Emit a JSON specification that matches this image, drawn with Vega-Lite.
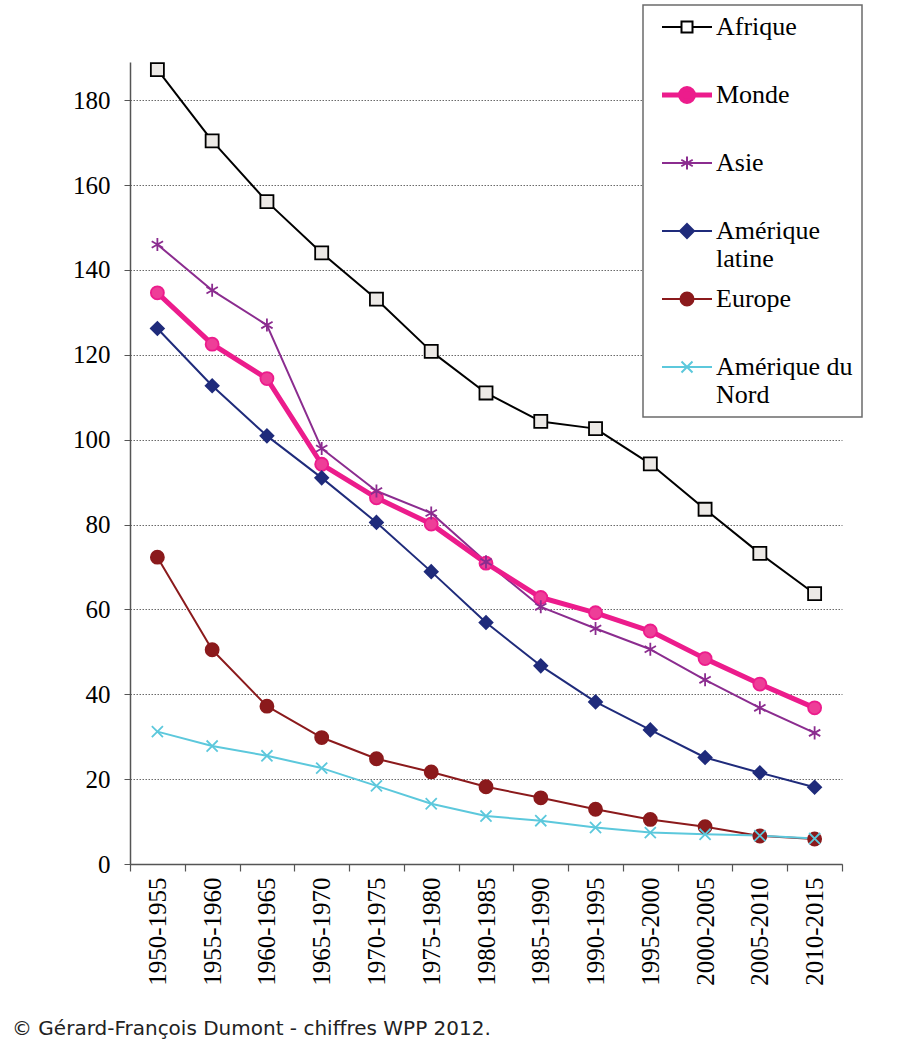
{
  "$schema": "https://vega.github.io/schema/vega-lite/v6.json",
  "width": 712,
  "height": 802,
  "autosize": {"type": "none"},
  "padding": {"left": 130, "top": 62, "right": 66, "bottom": 188},
  "background": "white",
  "config": {"view": {"stroke": null}},
  "title": {
    "text": "© Gérard-François Dumont - chiffres WPP 2012.",
    "orient": "bottom",
    "anchor": "start",
    "frame": "group",
    "dx": -118,
    "offset": 34,
    "font": "DejaVu Sans",
    "fontSize": 20,
    "fontWeight": "normal",
    "color": "#222222"
  },
  "data": {
    "values": [
      {"region": "Afrique", "period": "1950-1955", "value": 187.2},
      {"region": "Afrique", "period": "1955-1960", "value": 170.4},
      {"region": "Afrique", "period": "1960-1965", "value": 156.1},
      {"region": "Afrique", "period": "1965-1970", "value": 144.0},
      {"region": "Afrique", "period": "1970-1975", "value": 133.1},
      {"region": "Afrique", "period": "1975-1980", "value": 120.8},
      {"region": "Afrique", "period": "1980-1985", "value": 111.0},
      {"region": "Afrique", "period": "1985-1990", "value": 104.3},
      {"region": "Afrique", "period": "1990-1995", "value": 102.6},
      {"region": "Afrique", "period": "1995-2000", "value": 94.3},
      {"region": "Afrique", "period": "2000-2005", "value": 83.6},
      {"region": "Afrique", "period": "2005-2010", "value": 73.2},
      {"region": "Afrique", "period": "2010-2015", "value": 63.7},
      {"region": "Monde", "period": "1950-1955", "value": 134.6},
      {"region": "Monde", "period": "1955-1960", "value": 122.5},
      {"region": "Monde", "period": "1960-1965", "value": 114.4},
      {"region": "Monde", "period": "1965-1970", "value": 94.2},
      {"region": "Monde", "period": "1970-1975", "value": 86.3},
      {"region": "Monde", "period": "1975-1980", "value": 80.1},
      {"region": "Monde", "period": "1980-1985", "value": 70.9},
      {"region": "Monde", "period": "1985-1990", "value": 62.8},
      {"region": "Monde", "period": "1990-1995", "value": 59.2},
      {"region": "Monde", "period": "1995-2000", "value": 54.9},
      {"region": "Monde", "period": "2000-2005", "value": 48.4},
      {"region": "Monde", "period": "2005-2010", "value": 42.4},
      {"region": "Monde", "period": "2010-2015", "value": 36.8},
      {"region": "Asie", "period": "1950-1955", "value": 146.0},
      {"region": "Asie", "period": "1955-1960", "value": 135.2},
      {"region": "Asie", "period": "1960-1965", "value": 127.0},
      {"region": "Asie", "period": "1965-1970", "value": 97.9},
      {"region": "Asie", "period": "1970-1975", "value": 87.9},
      {"region": "Asie", "period": "1975-1980", "value": 82.7},
      {"region": "Asie", "period": "1980-1985", "value": 71.2},
      {"region": "Asie", "period": "1985-1990", "value": 60.6},
      {"region": "Asie", "period": "1990-1995", "value": 55.5},
      {"region": "Asie", "period": "1995-2000", "value": 50.6},
      {"region": "Asie", "period": "2000-2005", "value": 43.4},
      {"region": "Asie", "period": "2005-2010", "value": 36.8},
      {"region": "Asie", "period": "2010-2015", "value": 30.9},
      {"region": "Amérique latine", "period": "1950-1955", "value": 126.2},
      {"region": "Amérique latine", "period": "1955-1960", "value": 112.7},
      {"region": "Amérique latine", "period": "1960-1965", "value": 100.9},
      {"region": "Amérique latine", "period": "1965-1970", "value": 91.0},
      {"region": "Amérique latine", "period": "1970-1975", "value": 80.5},
      {"region": "Amérique latine", "period": "1975-1980", "value": 68.9},
      {"region": "Amérique latine", "period": "1980-1985", "value": 56.9},
      {"region": "Amérique latine", "period": "1985-1990", "value": 46.7},
      {"region": "Amérique latine", "period": "1990-1995", "value": 38.2},
      {"region": "Amérique latine", "period": "1995-2000", "value": 31.6},
      {"region": "Amérique latine", "period": "2000-2005", "value": 25.1},
      {"region": "Amérique latine", "period": "2005-2010", "value": 21.5},
      {"region": "Amérique latine", "period": "2010-2015", "value": 18.1},
      {"region": "Europe", "period": "1950-1955", "value": 72.3},
      {"region": "Europe", "period": "1955-1960", "value": 50.5},
      {"region": "Europe", "period": "1960-1965", "value": 37.2},
      {"region": "Europe", "period": "1965-1970", "value": 29.8},
      {"region": "Europe", "period": "1970-1975", "value": 24.8},
      {"region": "Europe", "period": "1975-1980", "value": 21.7},
      {"region": "Europe", "period": "1980-1985", "value": 18.2},
      {"region": "Europe", "period": "1985-1990", "value": 15.6},
      {"region": "Europe", "period": "1990-1995", "value": 12.9},
      {"region": "Europe", "period": "1995-2000", "value": 10.5},
      {"region": "Europe", "period": "2000-2005", "value": 8.8},
      {"region": "Europe", "period": "2005-2010", "value": 6.6},
      {"region": "Europe", "period": "2010-2015", "value": 5.9},
      {"region": "Amérique du Nord", "period": "1950-1955", "value": 31.2},
      {"region": "Amérique du Nord", "period": "1955-1960", "value": 27.8},
      {"region": "Amérique du Nord", "period": "1960-1965", "value": 25.5},
      {"region": "Amérique du Nord", "period": "1965-1970", "value": 22.6},
      {"region": "Amérique du Nord", "period": "1970-1975", "value": 18.4},
      {"region": "Amérique du Nord", "period": "1975-1980", "value": 14.2},
      {"region": "Amérique du Nord", "period": "1980-1985", "value": 11.3},
      {"region": "Amérique du Nord", "period": "1985-1990", "value": 10.2},
      {"region": "Amérique du Nord", "period": "1990-1995", "value": 8.6},
      {"region": "Amérique du Nord", "period": "1995-2000", "value": 7.4},
      {"region": "Amérique du Nord", "period": "2000-2005", "value": 7.0},
      {"region": "Amérique du Nord", "period": "2005-2010", "value": 6.7},
      {"region": "Amérique du Nord", "period": "2010-2015", "value": 6.0}
    ]
  },
  "encoding": {
    "x": {
      "field": "period",
      "type": "ordinal",
      "sort": null,
      "bandPosition": 0.5,
      "scale": {"type": "band", "paddingInner": 0, "paddingOuter": 0},
      "axis": {
        "title": null,
        "labelAngle": -90,
        "labelAlign": "right",
        "labelBaseline": "middle",
        "labelFont": "Liberation Serif",
        "labelFontSize": 25,
        "labelColor": "#000000",
        "labelPadding": 6,
        "tickBand": "extent",
        "tickSize": 7,
        "tickColor": "#555555",
        "tickWidth": 1.2,
        "domainColor": "#555555",
        "domainWidth": 1.5,
        "grid": false
      }
    },
    "y": {
      "field": "value",
      "type": "quantitative",
      "scale": {"domain": [0, 189], "nice": false},
      "axis": {
        "title": null,
        "values": [0, 20, 40, 60, 80, 100, 120, 140, 160, 180],
        "grid": true,
        "gridDash": [1.5, 1.5],
        "gridColor": "#444444",
        "gridWidth": 0.8,
        "tickSize": 6,
        "tickColor": "#555555",
        "domainColor": "#555555",
        "domainWidth": 1.5,
        "labelFont": "Liberation Serif",
        "labelFontSize": 25,
        "labelColor": "#000000",
        "labelPadding": 14
      }
    },
    "color": {
      "field": "region",
      "type": "nominal",
      "scale": {
        "domain": ["Afrique", "Monde", "Asie", "Amérique latine", "Europe", "Amérique du Nord"],
        "range": ["#000000", "#EC1C8C", "#8B2C8F", "#1F2B7B", "#8B1A1C", "#5CC8DC"]
      },
      "legend": {
        "title": null,
        "orient": "none",
        "legendX": 513,
        "legendY": -57,
        "direction": "vertical",
        "fillColor": "#ffffff",
        "strokeColor": "#6b6b6b",
        "padding": 9,
        "gridAlign": "all",
        "labelFont": "Liberation Serif",
        "labelFontSize": 26,
        "labelColor": "#000000",
        "labelLimit": 300,
        "labelOffset": 16,
        "symbolOffset": 22,
        "labelExpr": "datum.label == 'Amérique latine' ? ['Amérique', 'latine'] : datum.label == 'Amérique du Nord' ? ['Amérique du', 'Nord'] : datum.label",
        "symbolSize": 2500,
        "rowPadding": 10,
        "encode": {
          "legend": {"update": {"strokeWidth": {"value": 1.5}}},
          "symbols": {
            "update": {
              "size": {"value": 2500},
              "opacity": {"value": 1},
              "shape": {"signal": "datum.value == 'Afrique' ? 'M-1,0H-0.22M0.22,0H1M-0.22,-0.22H0.22V0.22H-0.22Z' : datum.value == 'Monde' ? 'M-1,0H1M-0.26,0A0.26,0.26 0 1,1 0.26,0A0.26,0.26 0 1,1 -0.26,0Z' : datum.value == 'Asie' ? 'M-1,0H1M0,-0.26V0.26M-0.23,-0.13L0.23,0.13M-0.23,0.13L0.23,-0.13' : datum.value == 'Amérique latine' ? 'M-1,0H1M0,-0.28L0.28,0L0,0.28L-0.28,0Z' : datum.value == 'Europe' ? 'M-1,0H1M-0.26,0A0.26,0.26 0 1,1 0.26,0A0.26,0.26 0 1,1 -0.26,0Z' : 'M-1,0H1M-0.22,-0.22L0.22,0.22M-0.22,0.22L0.22,-0.22'"},
              "fill": {"signal": "datum.value == 'Afrique' ? '#ffffff' : datum.value == 'Monde' ? '#EC1C8C' : datum.value == 'Amérique latine' ? '#1F2B7B' : datum.value == 'Europe' ? '#8B1A1C' : 'transparent'"},
              "stroke": {"signal": "datum.value == 'Afrique' ? '#000000' : datum.value == 'Monde' ? '#EC1C8C' : datum.value == 'Asie' ? '#8B2C8F' : datum.value == 'Amérique latine' ? '#1F2B7B' : datum.value == 'Europe' ? '#8B1A1C' : '#5CC8DC'"},
              "strokeWidth": {"signal": "datum.value == 'Monde' ? 5 : 2"}
            }
          }
        }
      }
    }
  },
  "layer": [
    {
      "transform": [{"filter": "datum.region != 'Monde'"}],
      "mark": {"type": "line", "strokeWidth": 2, "strokeJoin": "round"}
    },
    {
      "transform": [{"filter": "datum.region == 'Monde'"}],
      "mark": {"type": "line", "strokeWidth": 5, "strokeJoin": "round"}
    },
    {
      "mark": {"type": "point", "filled": false, "opacity": 1, "strokeWidth": 1.8, "size": 170},
      "encoding": {
        "shape": {
          "field": "region",
          "type": "nominal",
          "scale": {
            "domain": ["Monde", "Afrique", "Asie", "Amérique latine", "Europe", "Amérique du Nord"],
            "range": ["circle", "square", "M0,-1V1M-0.87,-0.5L0.87,0.5M-0.87,0.5L0.87,-0.5", "diamond", "circle", "M-0.85,-0.85L0.85,0.85M-0.85,0.85L0.85,-0.85"]
          },
          "legend": null
        },
        "fill": {
          "field": "region",
          "type": "nominal",
          "scale": {
            "domain": ["Asie", "Afrique", "Monde", "Amérique latine", "Europe", "Amérique du Nord"],
            "range": ["transparent", "#ece9e6", "#EE3E98", "#1F2B7B", "#8B1A1C", "transparent"]
          },
          "legend": null
        }
      }
    }
  ]
}
